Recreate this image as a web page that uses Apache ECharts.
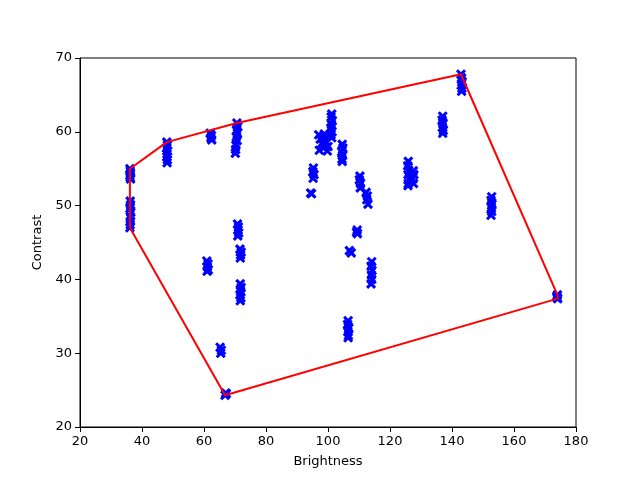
<!DOCTYPE html>
<html>
<head>
<meta charset="utf-8">
<script src="https://cdn.jsdelivr.net/npm/echarts@6/dist/echarts.min.js"></script>
<style>html,body{margin:0;padding:0;background:#fff}#c{width:640px;height:480px}</style>
</head>
<body>
<div id="c"></div>
<script>
// Brightness / Contrast samples, grouped by cluster (one line per cluster)
const brightness = [
  36.1,36.2,36.3,36.1,36.2,36.3,
  36.2,36.3,36.1,36.4,36.2,36.3,36.2,36.1,
  48.0,48.2,47.9,48.3,48.1,48.0,48.2,48.1,
  62.0,62.4,62.2,62.5,
  70.6,70.9,70.5,70.8,70.4,70.7,70.3,70.2,70.1,
  70.8,71.1,71.0,71.2,70.9,
  71.6,72.0,71.8,71.7,
  71.7,72.0,71.8,71.6,71.9,71.7,
  60.9,61.3,61.1,61.4,61.0,
  65.2,65.6,65.4,
  66.8,67.2,67.0,
  101.2,101.0,101.4,101.1,100.9,101.3,101.0,101.2,
  97.0,97.5,98.0,98.5,99.0,99.5,100.0,97.2,98.8,99.8,
  104.6,104.8,104.4,104.7,104.5,104.6,
  95.3,95.1,95.5,95.2,
  94.4,94.7,
  110.3,110.1,110.5,110.4,
  112.3,112.7,112.5,112.9,
  109.4,109.2,109.5,
  106.9,107.5,
  114.1,113.9,114.2,114.0,114.1,113.9,
  106.5,106.3,106.7,106.4,106.6,106.5,
  125.9,125.7,126.0,125.8,126.1,125.9,125.8,
  127.5,127.7,127.4,127.6,
  137.0,136.8,137.1,136.9,137.2,137.0,
  142.9,143.1,143.3,143.0,143.2,143.1,
  152.8,152.6,152.9,152.7,152.8,152.6,
  174.1,173.9,173.8,174.0
];
const contrast = [
  55.0,54.7,54.4,54.1,53.8,53.6,
  50.6,50.1,49.6,49.1,48.5,47.9,47.4,47.0,
  58.6,58.2,57.8,57.4,57.0,56.6,56.2,55.8,
  59.8,59.5,59.2,58.9,
  61.2,60.7,60.2,59.8,59.3,58.8,58.2,57.6,57.1,
  47.5,47.1,46.7,46.3,45.9,
  44.1,43.7,43.3,42.9,
  39.4,38.9,38.4,37.9,37.5,37.1,
  42.5,42.1,41.7,41.3,41.1,
  30.8,30.4,30.0,
  24.3,24.5,24.6,
  62.4,62.0,61.5,61.0,60.5,60.0,59.6,59.2,
  59.6,59.0,58.4,57.8,59.3,58.6,58.0,57.5,59.7,57.4,
  58.3,57.8,57.3,56.8,56.3,56.0,
  55.1,54.6,54.2,53.7,
  51.7,51.6,
  54.0,53.5,53.0,52.4,
  51.8,51.3,50.8,50.2,
  46.7,46.4,46.2,
  43.9,43.6,
  42.4,41.8,41.2,40.6,40.0,39.4,
  34.4,33.9,33.4,32.9,32.4,32.1,
  56.0,55.4,54.8,54.2,53.6,53.0,52.7,
  54.7,54.2,53.6,53.0,
  62.1,61.6,61.1,60.6,60.2,59.8,
  67.8,67.3,66.8,66.3,65.9,65.5,
  51.2,50.7,50.2,49.7,49.2,48.7,
  37.4,37.5,37.7,37.9
];
const xTicks = [20, 40, 60, 80, 100, 120, 140, 160, 180];
const yTicks = [20, 30, 40, 50, 60, 70];

const pts = brightness.map((b, i) => [b, contrast[i]]);

// convex hull (monotone chain)
function hull(p) {
  const s = p.slice().sort((a, b) => a[0] - b[0] || a[1] - b[1]);
  const cross = (o, a, b) => (a[0]-o[0])*(b[1]-o[1]) - (a[1]-o[1])*(b[0]-o[0]);
  const lo = [], up = [];
  for (const q of s) { while (lo.length >= 2 && cross(lo[lo.length-2], lo[lo.length-1], q) <= 0) lo.pop(); lo.push(q); }
  for (let i = s.length-1; i >= 0; i--) { const q = s[i]; while (up.length >= 2 && cross(up[up.length-2], up[up.length-1], q) <= 0) up.pop(); up.push(q); }
  up.pop(); lo.pop();
  const h = lo.concat(up);
  h.push(h[0]);
  return h;
}
const hullPts = hull(pts);

const chart = echarts.init(document.getElementById('c'), null, {renderer: 'canvas'});
const font = 'DejaVu Sans';
chart.setOption({
  animation: false,
  backgroundColor: '#ffffff',
  grid: { left: 80, right: 64, top: 58, bottom: 53, show: true, borderColor: '#000', borderWidth: 1, backgroundColor: 'transparent' },
  xAxis: {
    type: 'value', min: xTicks[0], max: xTicks[xTicks.length-1], interval: 20,
    name: 'Brightness', nameLocation: 'middle', nameGap: 28,
    nameTextStyle: { color: '#000', fontSize: 13, fontFamily: font },
    axisLine: { show: true, onZero: false, lineStyle: { color: '#000', width: 1 } },
    axisTick: { show: true, inside: false, length: 5, lineStyle: { color: '#000' } },
    axisLabel: { color: '#000', fontSize: 13, fontFamily: font, margin: 8 },
    splitLine: { show: false }
  },
  yAxis: {
    type: 'value', min: yTicks[0], max: yTicks[yTicks.length-1], interval: 10,
    name: 'Contrast', nameLocation: 'middle', nameGap: 34, nameRotate: 90,
    nameTextStyle: { color: '#000', fontSize: 13, fontFamily: font },
    axisLine: { show: true, onZero: false, lineStyle: { color: '#000', width: 1 } },
    axisTick: { show: true, inside: false, length: 5, lineStyle: { color: '#000' } },
    axisLabel: { color: '#000', fontSize: 13, fontFamily: font, margin: 8 },
    splitLine: { show: false }
  },
  series: [
    {
      type: 'scatter',
      data: pts,
      symbol: 'path://M0,0L10,10M10,0L0,10',
      symbolSize: 8,
      itemStyle: { color: 'rgba(0,0,255,0)', borderColor: '#0000ff', borderWidth: 3, opacity: 1 },
      z: 2
    },
    {
      type: 'line',
      data: hullPts,
      showSymbol: false,
      symbol: 'none',
      lineStyle: { color: '#ff0000', width: 2 },
      z: 3
    }
  ]
});
</script>
</body>
</html>
